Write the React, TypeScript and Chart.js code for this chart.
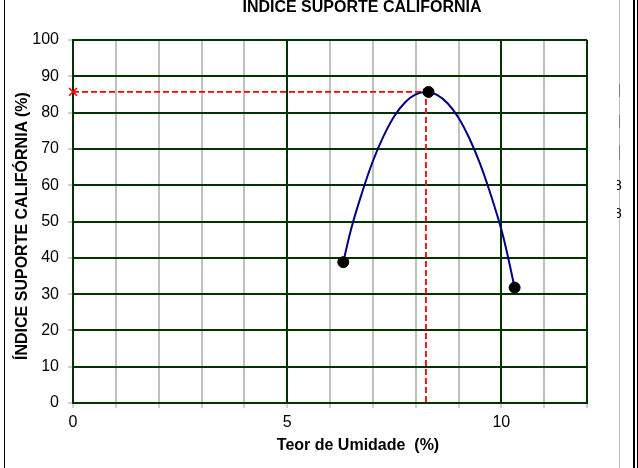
import React, { useEffect, useRef } from "react";
import { Chart, registerables } from "chart.js";

Chart.register(...registerables);

// ---- data ----
const xMin = 0;
const xMax = 12;
const yMin = 0;
const yMax = 100;
const xLabeled = [0, 5, 10];

// measured points (Teor de Umidade %, ISC %)
const pointX = [6.31, 8.3, 10.31];
const pointY = [38.8, 85.7, 31.8];

// fitted curve
const curveX = [6.31, 6.5, 6.75, 7.0, 7.25, 7.5, 7.75, 8.0, 8.25, 8.5, 8.75, 9.0, 9.25, 9.5, 9.75, 10.0, 10.15, 10.31];
const curveY = [38.8, 48.2, 58.0, 66.6, 73.5, 79.0, 82.8, 85.0, 85.7, 84.9, 82.5, 78.6, 73.0, 66.0, 57.5, 47.8, 40.5, 31.8];

// optimum guide lines
const optX = 8.24;
const optY = 85.7;

const TITLE = "ÍNDICE SUPORTE CALIFÓRNIA";
const Y_TITLE = "ÍNDICE SUPORTE CALIFÓRNIA (%)";
const X_TITLE = "Teor de Umidade  (%)";

const FONT = 'Arial, "Liberation Sans", sans-serif';
const GREEN = "#003300";
const GRAY = "#c0c0c0";

export default function App() {
  const ref = useRef<HTMLCanvasElement | null>(null);

  useEffect(() => {
    document.body.style.margin = "0";
    const canvas = ref.current;
    if (!canvas) return;
    const chart = new Chart(canvas, {
      type: "line",
      data: {
        datasets: [
          {
            label: "pontos",
            data: pointX.map((x, i) => ({ x, y: pointY[i] })),
            backgroundColor: "#000000",
            borderColor: "#000000",
            pointRadius: 5.5,
            pointHoverRadius: 5.5,
            showLine: false,
          },
          {
            label: "curva",
            data: curveX.map((x, i) => ({ x, y: curveY[i] })),
            showLine: true,
            borderColor: "#000080",
            borderWidth: 2,
            pointRadius: 0,
            tension: 0.4,
            fill: false,
          },
          {
            label: "otimo",
            data: [
              { x: xMin, y: optY },
              { x: optX, y: optY },
              { x: optX, y: yMin },
            ],
            showLine: true,
            borderColor: "#ff0000",
            borderWidth: 1.8,
            borderDash: [6, 3],
            pointStyle: "crossRot",
            pointRadius: [5.5, 4, 0],
            pointBorderColor: "#ff0000",
            pointBorderWidth: 1.6,
            pointBackgroundColor: "#ff0000",
            tension: 0,
            fill: false,
            clip: false,
          } as any,
        ],
      },
      options: {
        responsive: false,
        animation: false,
        devicePixelRatio: 1,
        layout: { padding: { top: 40, right: 51, left: 0, bottom: 0 } },
        plugins: {
          legend: { display: false },
          title: { display: false },
          tooltip: { enabled: false },
        },
        scales: {
          x: {
            type: "linear",
            min: xMin,
            max: xMax,
            afterFit: (s: any) => {
              s.height = 65;
            },
            ticks: {
              stepSize: 1,
              autoSkip: false,
              maxRotation: 0,
              color: "#000000",
              font: { family: FONT, size: 16 },
              padding: 5,
              callback: (v: any) => (xLabeled.includes(Number(v)) ? String(v) : ""),
            },
            grid: {
              color: (ctx: any) => {
                const v = ctx.tick ? ctx.tick.value : 0;
                return v % 5 === 0 || v === xMax ? GREEN : GRAY;
              },
              lineWidth: 2,
              tickColor: "#a0a0a0",
              tickLength: 5,
              tickWidth: 1,
            },
            border: { display: true, color: GREEN, width: 2 },
          },
          y: {
            type: "linear",
            min: yMin,
            max: yMax,
            afterFit: (s: any) => {
              s.width = 73;
            },
            ticks: {
              stepSize: 10,
              color: "#000000",
              font: { family: FONT, size: 16 },
              padding: 9,
            },
            grid: {
              color: GREEN,
              lineWidth: 2,
              tickColor: "#a0a0a0",
              tickLength: 5,
              tickWidth: 1,
            },
            border: { display: true, color: GREEN, width: 2 },
          },
        },
      },
    });
    return () => chart.destroy();
  }, []);

  const abs = (style: React.CSSProperties): React.CSSProperties => ({ position: "absolute", ...style });

  return (
    <div style={{ position: "relative", width: 638, height: 468, overflow: "hidden", background: "#ffffff", fontFamily: FONT }}>
      <canvas ref={ref} width={638} height={468} style={abs({ left: 0, top: 0, width: 638, height: 468 })} />
      {/* sheet borders */}
      <div style={abs({ left: 4, top: 0, width: 1, height: 468, background: "#000000" })} />
      <div style={abs({ left: 619, top: 0, width: 1, height: 468, background: GRAY })} />
      <div style={abs({ left: 619, top: 84, width: 1, height: 13, background: "#808080" })} />
      <div style={abs({ left: 619, top: 115, width: 1, height: 13, background: "#808080" })} />
      <div style={abs({ left: 619, top: 145, width: 1, height: 15, background: "#808080" })} />
      <div style={abs({ left: 633, top: 0, width: 2, height: 468, background: "#000000" })} />
      <div style={abs({ left: 637, top: 0, width: 1, height: 468, background: "#000000" })} />
      <div style={abs({ left: 617, top: 177, width: 6, height: 16, overflow: "hidden" })}>
        <span style={abs({ left: -3, top: 0, fontSize: 14, lineHeight: "16px", color: "#000" })}>8</span>
      </div>
      <div style={abs({ left: 617, top: 205, width: 6, height: 16, overflow: "hidden" })}>
        <span style={abs({ left: -3, top: 0, fontSize: 14, lineHeight: "16px", color: "#000" })}>8</span>
      </div>
      {/* titles */}
      <div style={abs({ left: 162, top: -1, width: 400, textAlign: "center", fontSize: 16, fontWeight: "bold", lineHeight: "16px", color: "#000" })}>
        {TITLE}
      </div>
      <div style={abs({ left: 158, top: 436, width: 400, textAlign: "center", fontSize: 16, fontWeight: "bold", lineHeight: "18px", whiteSpace: "pre", color: "#000" })}>
        {X_TITLE}
      </div>
      <div
        style={abs({
          left: 22 - 200,
          top: 226 - 9,
          width: 400,
          height: 18,
          lineHeight: "18px",
          textAlign: "center",
          fontSize: 16,
          fontWeight: "bold",
          color: "#000",
          transform: "rotate(-90deg)",
          transformOrigin: "200px 9px",
          whiteSpace: "nowrap",
        })}
      >
        {Y_TITLE}
      </div>
    </div>
  );
}
